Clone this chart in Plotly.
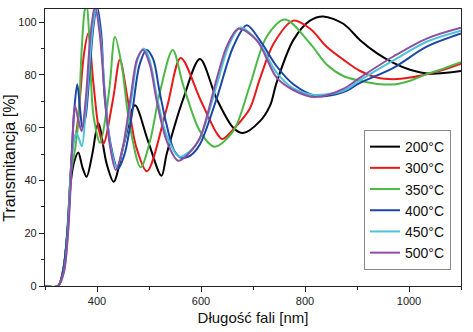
import plotly.graph_objects as go

# Transmittance spectra of films annealed at different temperatures
labels = ["200°C", "300°C", "350°C", "400°C", "450°C", "500°C"]
colors = ["#000000", "#e8191b", "#4db848", "#1c45a6", "#4cc3d9", "#8c4fa3"]

wl_200 = [300, 325, 335, 343, 350, 356, 364, 372, 380, 391, 402.5, 418.6, 432, 452, 473, 498, 524, 534, 566, 598, 630, 662, 681, 713, 733, 745.5, 777.5, 809.6, 835, 873.7, 906, 938, 970, 1002, 1040, 1100]
t_200 = [0, 0, 6, 20, 40, 47, 50.6, 45, 41.4, 50, 61.7, 46.3, 39.5, 54, 68.5, 55, 41.8, 50, 71, 86, 71, 60, 58, 62.4, 68.5, 77.2, 93.2, 100.6, 102.2, 99.4, 93.2, 88.3, 84.6, 82, 80.5, 81.5]

wl_300 = [300, 325, 335, 343, 349, 354, 360, 367, 375, 383, 393, 403, 412, 431, 444, 458, 475, 496, 534, 561, 598, 630, 641, 665, 694, 713, 740, 777.5, 810, 841.7, 873.7, 906, 938, 970, 1002, 1034, 1066, 1100]
t_300 = [0, 0, 6, 20, 42, 54.3, 58, 71, 88, 95.7, 77, 60, 53.7, 71, 85.8, 72, 53, 43.5, 67.3, 86.4, 71, 58, 55.7, 60, 67.3, 78.4, 92, 100.6, 97.5, 90.7, 85.8, 81.5, 79, 78.4, 79, 80.3, 82, 84.3]

wl_350 = [300, 325, 335, 343, 350, 358, 364, 370.5, 376, 380, 385, 393, 406, 418, 425, 434.6, 448, 462, 484, 502, 521, 545.6, 566, 598, 626, 662, 694, 726, 761.5, 809.6, 841.7, 873.7, 906, 944, 975, 1002, 1034, 1066, 1100]
t_350 = [0, 0, 6, 21, 43, 52, 62, 89.5, 104, 107, 95, 65, 54.3, 66, 77, 94.5, 83, 62, 45, 55, 73.5, 89.5, 76, 58.7, 52.8, 58.7, 76, 94.4, 101, 92, 84, 79.6, 77.8, 76.5, 76.5, 77.8, 80.3, 82.4, 84.8]

wl_400 = [300, 325, 335, 343, 350, 356, 362, 368, 372, 378, 386.5, 393, 400, 408, 415, 428, 440, 453, 467, 482, 495.5, 508, 520, 534, 548, 563, 580, 598, 630, 662, 688, 713, 745.5, 777.5, 822.5, 873.7, 906, 970, 1034, 1100]
t_400 = [0, 0, 6, 21, 45, 66, 76.5, 66, 60, 64, 83.3, 98, 106, 96, 71, 52, 44.4, 50, 64.8, 84, 89.5, 86, 74, 61, 51.5, 48.5, 49.5, 53.7, 71, 90.7, 98.8, 93.2, 83.3, 76.5, 72, 73.5, 77, 82.7, 90.7, 95.7]

wl_450 = [300, 325, 336, 344, 350, 355, 360, 365, 371, 378, 387, 393, 398, 406, 416, 426, 438, 452, 467, 478, 490, 500, 517, 534, 558, 578, 598, 630, 655, 676, 710, 745, 777, 815, 874, 906, 970, 1034, 1100]
t_450 = [0, 0, 5, 20, 44, 54, 58, 56, 53, 66, 88, 100, 105, 96, 72, 53, 45, 54, 72, 86, 90, 86.5, 70, 57, 49, 51, 56, 76, 92, 98, 92.5, 81, 75, 72.5, 74, 78, 85.5, 92.6, 96.8]

wl_500 = [300, 325, 336, 344, 350, 354, 357.7, 364, 370.5, 378, 386, 391, 396, 405, 415, 425, 436, 450, 465, 477, 489, 502, 515, 534, 556, 575, 598, 630, 650, 672, 707, 745.5, 777.5, 819, 873.7, 906, 970, 1034, 1100]
t_500 = [0, 0, 5, 19, 41, 60, 68.3, 63, 58.7, 70, 92, 101, 106, 96, 72, 53, 44, 53, 72, 86, 89.5, 83.6, 70, 55, 47.5, 50, 56.2, 78.4, 91, 97.5, 93.2, 79, 74.3, 71.6, 74.7, 79, 87, 93.8, 97.9]

wavelengths = [wl_200, wl_300, wl_350, wl_400, wl_450, wl_500]
transmittance = [t_200, t_300, t_350, t_400, t_450, t_500]

x_ticks = [400, 600, 800, 1000]
y_ticks = [0, 20, 40, 60, 80, 100]

fig = go.Figure()
for wl, t, name, col in zip(wavelengths, transmittance, labels, colors):
    fig.add_trace(go.Scatter(
        x=wl, y=t, name=name, mode="lines",
        line=dict(color=col, width=2, shape="spline", smoothing=0.9),
    ))

font_family = "Liberation Sans, Arial, sans-serif"
axis_common = dict(
    showline=True, linecolor="#222", linewidth=1.3, mirror=True,
    ticks="outside", ticklen=5, tickwidth=1.2, tickcolor="#222",
    showgrid=False, zeroline=False,
    tickfont=dict(family=font_family, size=11, color="#222"),
)

fig.update_layout(
    width=473, height=332,
    margin=dict(l=45, r=12, t=8, b=40),
    paper_bgcolor="white", plot_bgcolor="white",
    font=dict(family=font_family, color="#111"),
    xaxis=dict(
        range=[300, 1100], tickvals=x_ticks,
        minor=dict(ticks="outside", ticklen=3, tickwidth=1.1, tickcolor="#222", dtick=100, tick0=300),
        title=dict(text="Długość fali [nm]", font=dict(size=15, family=font_family), standoff=6),
        **axis_common,
    ),
    yaxis=dict(
        range=[0, 105], tickvals=y_ticks,
        minor=dict(ticks="outside", ticklen=3, tickwidth=1.1, tickcolor="#222", dtick=10, tick0=0),
        **axis_common,
    ),
    legend=dict(
        x=0.976, y=0.563, xanchor="right", yanchor="top",
        bordercolor="#888", borderwidth=1, bgcolor="white",
        font=dict(size=14, family=font_family, color="#111"),
        tracegroupgap=0, itemwidth=30,
    ),
    showlegend=True,
)

# Vertical axis title, drawn as rotated text beside the axis
fig.add_annotation(
    text="Transmitancja [%]", textangle=-90,
    xref="paper", yref="paper", x=-0.084, y=0.46,
    xanchor="center", yanchor="middle", showarrow=False,
    font=dict(size=16, family=font_family, color="#111"),
)

fig.write_html("out.html")
